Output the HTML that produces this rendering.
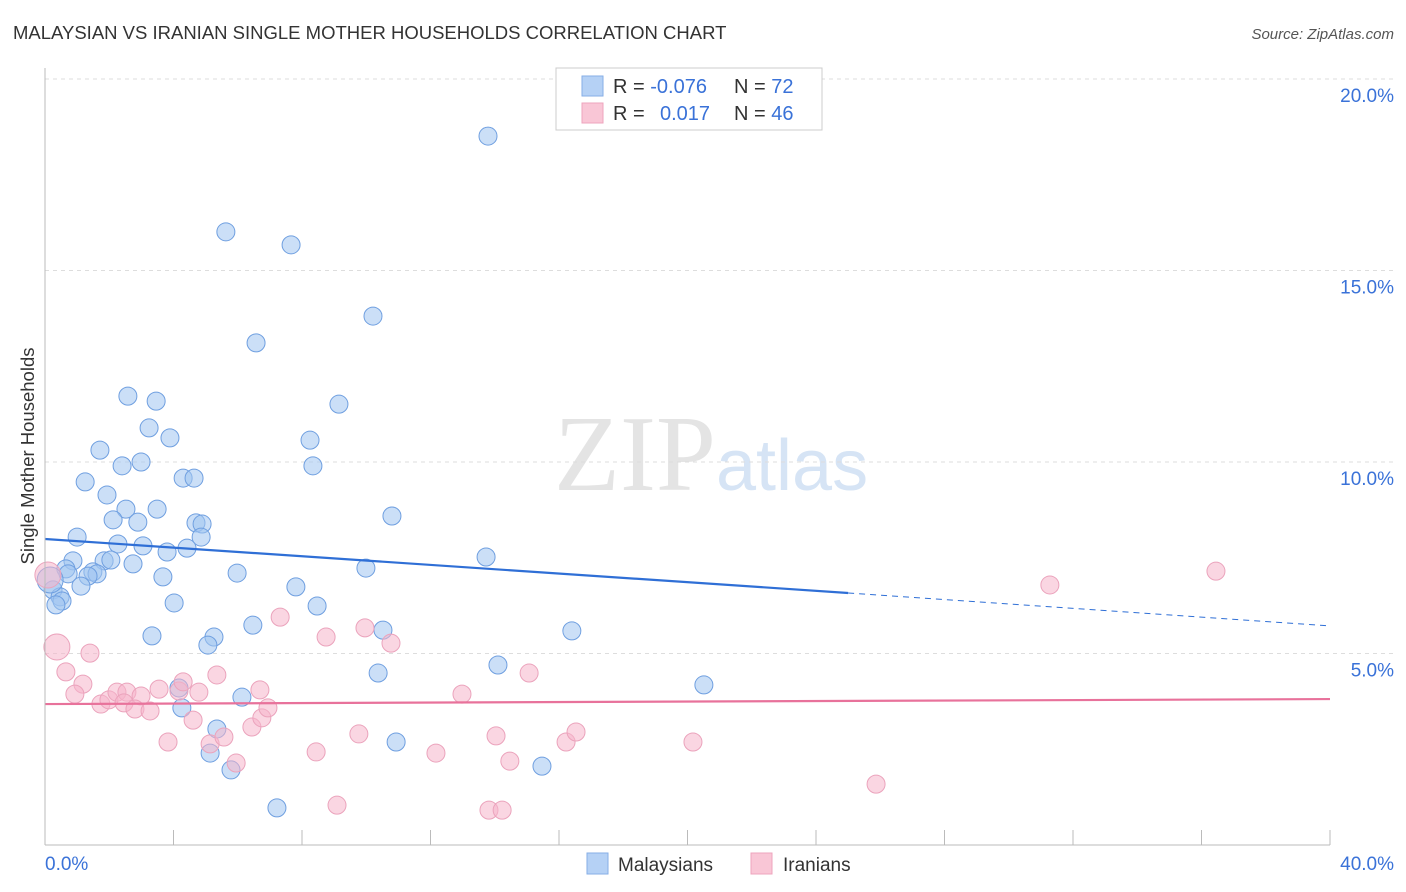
<!DOCTYPE html>
<html><head><meta charset="utf-8"><style>
body{margin:0;background:#fff;font-family:"Liberation Sans",sans-serif;}
svg{display:block}
</style></head><body>
<svg id="chart" width="1406" height="892">
<text x="13" y="39" font-size="18.5" fill="#333">MALAYSIAN VS IRANIAN SINGLE MOTHER HOUSEHOLDS CORRELATION CHART</text>
<text x="1394" y="39" font-size="15" fill="#555" font-style="italic" text-anchor="end">Source: ZipAtlas.com</text>
<text x="716" y="490" font-size="108" fill="#e4e4e4" text-anchor="end" font-family="Liberation Serif,serif">ZIP</text>
<text x="716" y="490" font-size="72" fill="#d6e4f5">atlas</text>
<text x="34" y="456" font-size="18.5" fill="#333" text-anchor="middle" transform="rotate(-90 34 456)">Single Mother Households</text>
<g id="grid"></g><g id="pts"></g><g id="trend"></g>
<line x1="45" y1="68" x2="45" y2="845" stroke="#bbb"/>
<line x1="45" y1="845" x2="1330" y2="845" stroke="#bbb"/>
<text x="45" y="870" font-size="19" fill="#3a72d8">0.0%</text>
<text x="1394" y="870" font-size="19" fill="#3a72d8" text-anchor="end">40.0%</text>
<g>
<rect x="556" y="68" width="266" height="62" fill="#fff" stroke="#ccc"/>
<rect x="582" y="76" width="21" height="20" fill="#b5d1f5" stroke="#86aee6"/>
<rect x="582" y="103" width="21" height="20" fill="#f9c6d6" stroke="#eea4bd"/>
<text x="613" y="93" font-size="20" fill="#333">R = <tspan fill="#3a72d8">-0.076</tspan></text>
<text x="734" y="93" font-size="20" fill="#333">N = <tspan fill="#3a72d8">72</tspan></text>
<text x="613" y="120" font-size="20" fill="#333">R = <tspan fill="#3a72d8" x="660">0.017</tspan></text>
<text x="734" y="120" font-size="20" fill="#333">N = <tspan fill="#3a72d8">46</tspan></text>
</g>
<rect x="587" y="853" width="21" height="21" fill="#b5d1f5" stroke="#86aee6"/>
<text x="618" y="871" font-size="19" fill="#333">Malaysians</text>
<rect x="751" y="853" width="21" height="21" fill="#f9c6d6" stroke="#eea4bd"/>
<text x="783" y="871" font-size="19" fill="#333">Iranians</text>
</svg>
<script>
const yTicks=[5,10,15,20];
const yTickLabels=["5.0%","10.0%","15.0%","20.0%"];
const xTicks=[0,4,8,12,16,20,24,28,32,36,40];
const malaysiansX=[13.79,5.63,7.66,10.21,6.57,2.58,3.46,9.15,3.24,3.89,8.25,1.71,2.40,2.99,8.34,1.25,4.30,4.64,1.93,3.49,2.52,2.12,2.89,4.70,4.89,10.80,4.86,1.0,2.27,3.05,4.42,3.80,13.73,0.87,1.84,2.05,2.74,0.65,1.49,1.62,1.34,5.98,9.99,3.67,0.72,1.12,7.81,0.25,0.47,0.53,0.34,4.02,8.47,10.52,16.40,6.47,3.33,5.26,5.07,14.10,10.37,20.51,4.17,6.13,4.26,5.35,10.93,5.14,15.47,5.79,7.22,0.16];
const malaysiansY=[18.51,16.01,15.67,13.81,13.11,11.72,11.59,11.51,10.89,10.63,10.57,10.31,9.90,10.0,9.90,9.48,9.58,9.58,9.14,8.77,8.77,8.49,8.43,8.41,8.38,8.59,8.04,8.04,7.86,7.81,7.75,7.65,7.52,7.42,7.42,7.44,7.34,7.21,7.13,7.08,7.02,7.10,7.23,7.0,7.08,6.76,6.74,6.66,6.48,6.37,6.27,6.32,6.24,5.61,5.59,5.74,5.46,5.43,5.22,4.70,4.49,4.18,4.10,3.86,3.58,3.03,2.69,2.40,2.06,1.96,0.97,6.92];
const iraniansX=[0.37,0.09,0.65,1.40,1.18,0.93,1.74,1.99,2.24,2.55,2.46,2.99,2.80,3.27,3.55,4.17,4.30,4.79,5.35,4.61,3.83,5.14,5.57,5.95,6.44,6.75,6.94,6.69,7.32,8.75,9.96,10.77,8.44,9.77,9.09,12.17,12.98,14.04,14.47,15.07,16.22,16.53,13.82,14.23,20.17,25.87,31.28,36.45];
const iraniansY=[5.17,7.05,4.52,5.01,4.20,3.94,3.68,3.79,3.99,3.99,3.71,3.89,3.55,3.50,4.07,4.02,4.26,3.99,4.44,3.26,2.69,2.64,2.82,2.14,3.08,3.32,3.58,4.05,5.95,5.43,5.67,5.27,2.43,2.90,1.04,2.40,3.94,2.85,2.19,4.49,2.69,2.95,0.91,0.91,2.69,1.59,6.79,7.15];
const malaysiansTrend=[7.99,6.58,5.72]; // at x=0, 25, 40
const iraniansTrend=[3.68,3.81]; // at x=0, 40
const NS="http://www.w3.org/2000/svg";
const sx=v=>45+v*32.125, sy=v=>845-v*38.3;
function mk(t,a,p){const e=document.createElementNS(NS,t);for(const k in a)e.setAttribute(k,a[k]);p.appendChild(e);return e;}
const grid=document.getElementById('grid');
yTicks.forEach((v,i)=>{
 const l=mk('line',{x1:45,x2:1394,y1:sy(v),y2:sy(v),stroke:'#ddd','stroke-dasharray':'4 4'},grid);
 
 
 const t=mk('text',{x:1394,y:sy(v)+23,'font-size':19,fill:'#3a72d8','text-anchor':'end'},grid);
 t.textContent=yTickLabels[i];
 
 
});
mk('line',{x1:45,x2:1394,y1:79,y2:79,stroke:'#ddd','stroke-dasharray':'4 4'},grid);
xTicks.forEach(v=>{
 const l=mk('line',{x1:sx(v),x2:sx(v),y1:830,y2:845,stroke:'#bbb'},grid);
 
 
});
const pts=document.getElementById('pts');
malaysiansX.forEach((x,i)=>{
 const c=mk('circle',{cx:sx(x),cy:sy(malaysiansY[i]),r:i==malaysiansX.length-1?13:9,fill:'rgba(160,196,240,0.55)',stroke:'#6f9fe0','stroke-width':1},pts);
 
 
});
iraniansX.forEach((x,i)=>{
 const c=mk('circle',{cx:sx(x),cy:sy(iraniansY[i]),r:i<2?13:9,fill:'rgba(246,180,202,0.55)',stroke:'#eba3bc','stroke-width':1},pts);
 
 
});
const tr=document.getElementById('trend');
const b1=mk('line',{x1:sx(0),y1:sy(malaysiansTrend[0]),x2:sx(25),y2:sy(malaysiansTrend[1]),stroke:'#2f6fd6','stroke-width':2.2},tr);


const b2=mk('line',{x1:sx(25),y1:sy(malaysiansTrend[1]),x2:sx(40),y2:sy(malaysiansTrend[2]),stroke:'#2f6fd6','stroke-width':1,'stroke-dasharray':'6 5'},tr);


const p1=mk('line',{x1:sx(0),y1:sy(iraniansTrend[0]),x2:sx(40),y2:sy(iraniansTrend[1]),stroke:'#e8729b','stroke-width':2.2},tr);


</script>
</body></html>
